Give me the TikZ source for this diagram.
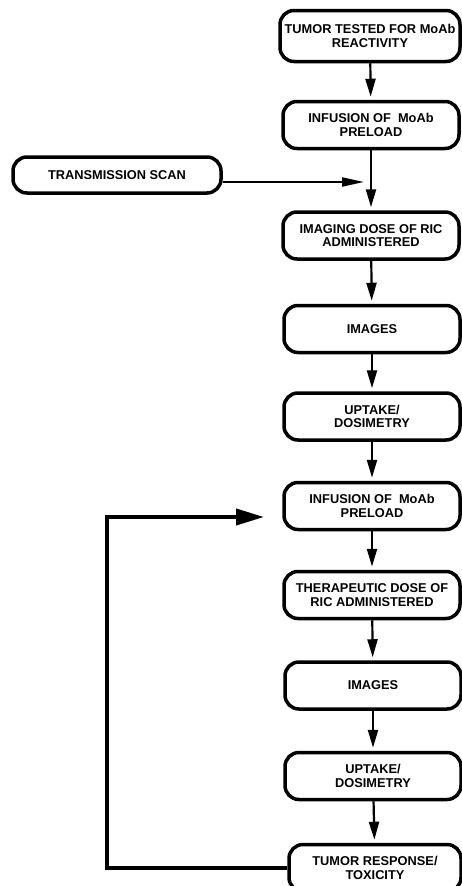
\documentclass[tikz,border=0pt]{standalone}
\usepackage{fontspec}
\setmainfont{Liberation Sans}
\usetikzlibrary{arrows.meta}
\tikzset{
  stepbox/.style={draw, line width=3.5pt, rounded corners=14pt, minimum width=176pt,
    minimum height=47pt, align=center, inner sep=2pt,
    font=\fontsize{12.8}{13.4}\selectfont\bfseries},
  flow/.style={line width=2.2pt, -{Triangle[width=10pt,length=18pt]}, shorten >=3pt},
  side/.style={line width=2.2pt, -{Triangle[width=9pt,length=22pt]}},
  loop/.style={line width=4pt, -{Triangle[width=16pt,length=28pt]}}
}
\begin{document}
\begin{tikzpicture}[x=1pt,y=-1pt]
\useasboundingbox (0,0) rectangle (461,886);
\node[stepbox, minimum height=51pt, minimum width=180pt] (b1) at (370,36) {TUMOR TESTED FOR MoAb\\REACTIVITY};
\node[stepbox] (b2) at (371,125) {INFUSION OF\ \ MoAb\\PRELOAD};
\node[stepbox] (b3) at (371,235.5) {IMAGING DOSE OF RIC\\ADMINISTERED};
\node[stepbox] (b4) at (372,329) {IMAGES};
\node[stepbox] (b5) at (372,416.5) {UPTAKE/\\DOSIMETRY};
\node[stepbox] (b6) at (372,506) {INFUSION OF\ \ MoAb\\PRELOAD};
\node[stepbox] (b7) at (372,595) {THERAPEUTIC DOSE OF\\RIC ADMINISTERED};
\node[stepbox] (b8) at (373,685.5) {IMAGES};
\node[stepbox] (b9) at (373,776) {UPTAKE/\\DOSIMETRY};
\node[stepbox, minimum width=172pt] (b10) at (375,868) {TUMOR RESPONSE/\\TOXICITY};
\node[stepbox, minimum width=208pt, minimum height=36pt] (ts) at (117,175) {TRANSMISSION SCAN};
\draw[flow] (b1) -- (b2);
\draw[flow] (b2) -- (b3);
\draw[flow] (b3) -- (b4);
\draw[flow] (b4) -- (b5);
\draw[flow] (b5) -- (b6);
\draw[flow] (b6) -- (b7);
\draw[flow] (b7) -- (b8);
\draw[flow] (b8) -- (b9);
\draw[flow] (b9) -- (b10);
\coordinate (tsend) at (364,182);
\draw[side] (ts.east |- tsend) -- (tsend);
\coordinate (lb) at (107,868);
\coordinate (lt) at (107,517);
\coordinate (ltip) at (264,517);
\draw[loop, line join=miter] (b10.west) -- (lb) -- (lt) -- (ltip);
\end{tikzpicture}
\end{document}
